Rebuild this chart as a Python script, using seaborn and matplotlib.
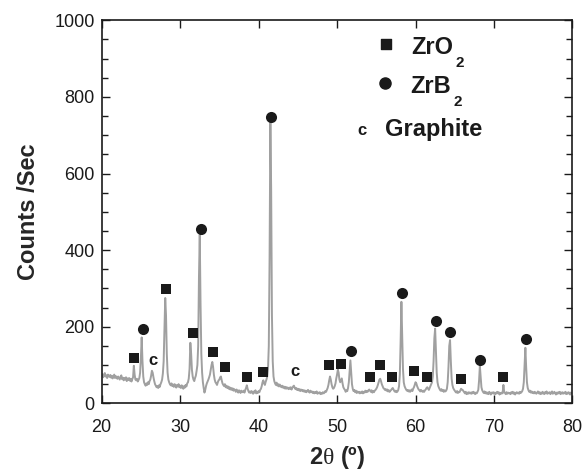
import numpy as np
import pandas as pd
import matplotlib
matplotlib.use('Agg')
import matplotlib.pyplot as plt
from matplotlib.ticker import MultipleLocator
import seaborn as sns

# XRD scan, 0.1 deg step from 20 to 80 deg (one row per degree)
counts = [
    72, 76, 68, 74, 79, 70, 73, 66, 75, 71,        # 20
    69, 74, 67, 72, 65, 70, 75, 66, 71, 68,        # 21
    64, 70, 66, 62, 69, 73, 63, 67, 60, 66,        # 22
    62, 68, 58, 65, 61, 66, 59, 64, 57, 63,        # 23
    68, 98, 75, 62, 60, 64, 57, 61, 66, 80,        # 24
    120, 172, 110, 70, 55, 50, 46, 52, 48, 55,     # 25
    50, 58, 62, 72, 85, 80, 68, 58, 50, 46,        # 26
    42, 45, 40, 47, 43, 50, 55, 62, 78, 110,       # 27
    190, 275, 230, 130, 80, 62, 55, 50, 47, 52,    # 28
    45, 49, 43, 50, 46, 41, 48, 44, 50, 42,        # 29
    46, 40, 47, 43, 38, 45, 41, 48, 44, 52,        # 30
    55, 65, 90, 158, 130, 88, 70, 62, 58, 66,      # 31
    72, 85, 100, 150, 330, 440, 260, 130, 80, 55,  # 32
    40, 28, 35, 45, 52, 57, 62, 68, 75, 88,        # 33
    100, 108, 95, 75, 62, 55, 52, 48, 55, 60,      # 34
    62, 68, 70, 60, 52, 48, 45, 50, 42, 46,        # 35
    40, 44, 38, 42, 36, 40, 35, 39, 33, 37,        # 36
    34, 30, 36, 32, 28, 34, 31, 27, 33, 30,        # 37
    29, 33, 28, 35, 40, 47, 38, 32, 28, 31,        # 38
    27, 32, 29, 25, 31, 28, 34, 26, 30, 27,        # 39
    32, 29, 35, 38, 45, 55, 60, 52, 48, 56,        # 40
    62, 70, 90, 150, 380, 735, 560, 230, 110, 70,  # 41
    58, 52, 48, 54, 46, 50, 44, 49, 45, 42,        # 42
    46, 41, 44, 39, 43, 38, 42, 40, 37, 41,        # 43
    38, 42, 36, 40, 44, 46, 41, 37, 40, 35,        # 44
    38, 34, 37, 32, 36, 33, 35, 31, 34, 30,        # 45
    33, 29, 32, 35, 30, 28, 33, 29, 31, 27,        # 46
    30, 26, 29, 27, 31, 25, 28, 26, 29, 24,        # 47
    27, 25, 29, 26, 28, 32, 30, 35, 40, 48,        # 48
    60, 70, 62, 50, 42, 38, 40, 45, 52, 65,        # 49
    75, 88, 80, 62, 55, 60, 65, 52, 42, 38,        # 50
    35, 30, 34, 32, 40, 55, 85, 112, 80, 50,       # 51
    38, 32, 35, 29, 33, 27, 31, 28, 30, 26,        # 52
    29, 27, 31, 26, 30, 28, 33, 29, 32, 30,        # 53
    34, 36, 33, 30, 34, 28, 32, 29, 33, 35,        # 54
    38, 42, 48, 55, 62, 64, 58, 50, 45, 40,        # 55
    38, 35, 37, 33, 36, 31, 34, 30, 33, 35,        # 56
    38, 40, 36, 32, 30, 33, 29, 31, 35, 45,        # 57
    75, 160, 265, 180, 90, 55, 45, 40, 36, 33,     # 58
    35, 31, 34, 30, 33, 36, 32, 38, 42, 48,        # 59
    55, 52, 45, 40, 36, 34, 31, 35, 32, 30,        # 60
    33, 30, 34, 36, 40, 42, 38, 35, 40, 45,        # 61
    50, 55, 70, 110, 170, 195, 140, 80, 55, 45,    # 62
    40, 36, 33, 37, 32, 35, 30, 34, 31, 33,        # 63
    38, 55, 95, 150, 165, 110, 65, 48, 40, 36,     # 64
    33, 30, 28, 32, 27, 30, 29, 33, 38, 36,        # 65
    35, 32, 29, 26, 30, 24, 28, 25, 29, 26,        # 66
    28, 25, 29, 26, 30, 27, 24, 28, 26, 30,        # 67
    35, 60, 97, 70, 42, 34, 30, 27, 31, 26,        # 68
    29, 25, 28, 24, 30, 27, 23, 28, 26, 29,        # 69
    25, 28, 24, 27, 30, 26, 29, 23, 27, 25,        # 70
    28, 26, 48, 30, 27, 24, 29, 25, 28, 26,        # 71
    27, 24, 29, 26, 30, 25, 28, 23, 27, 29,        # 72
    26, 28, 25, 30, 27, 29, 32, 38, 55, 100,       # 73
    145, 95, 55, 40, 34, 30, 33, 28, 31, 27,       # 74
    29, 26, 30, 27, 25, 28, 31, 26, 29, 24,        # 75
    28, 25, 30, 27, 24, 29, 26, 31, 25, 28,        # 76
    26, 29, 24, 28, 31, 25, 27, 30, 26, 23,        # 77
    28, 25, 29, 26, 30, 24, 27, 29, 25, 28,        # 78
    26, 30, 24, 28, 25, 29, 27, 23, 28, 26,        # 79
    27,                                            # 80
]
two_theta = np.linspace(20, 80, len(counts))

# phase markers above the peaks
zro2_x = [24.1, 28.2, 31.6, 34.15, 35.7, 38.5, 40.6, 49.0, 50.45, 54.15, 55.5, 57.0, 59.8, 61.5, 65.8, 71.15]
zro2_y = [119, 298, 184, 135, 94, 69, 82, 101, 103, 69, 101, 69, 84, 69, 64, 69]
zrb2_x = [25.3, 32.6, 41.55, 51.75, 58.25, 62.55, 64.45, 68.2, 74.05]
zrb2_y = [193, 455, 748, 137, 289, 214, 185, 114, 167]
graphite_x = [26.6, 44.6]
graphite_y = [112, 82]

sns.set_style('ticks')
plt.rcParams['font.family'] = ['Liberation Sans', 'DejaVu Sans']
plt.rcParams['mathtext.fontset'] = 'custom'
plt.rcParams['mathtext.rm'] = 'Liberation Serif'
plt.rcParams['mathtext.it'] = 'Liberation Serif:italic'
plt.rcParams['mathtext.bf'] = 'Liberation Sans:bold'

df = pd.DataFrame({'two_theta': two_theta, 'counts': counts})

fig = plt.figure(figsize=(5.83, 4.71), dpi=100)
ax = fig.add_axes([0.1744, 0.1437, 0.8075, 0.8132])

sns.lineplot(data=df, x='two_theta', y='counts', color='#a0a0a0', linewidth=1.4, ax=ax)
sns.scatterplot(x=zro2_x, y=zro2_y, marker='s', s=52, color='#1a1a1a', linewidth=0, ax=ax, zorder=3)
sns.scatterplot(x=zrb2_x, y=zrb2_y, marker='o', s=64, color='#1a1a1a', linewidth=0, ax=ax, zorder=3)
for gx, gy in zip(graphite_x, graphite_y):
    ax.text(gx, gy, 'c', fontsize=12, fontweight='bold', ha='center', va='center', color='#1a1a1a')

# hand-made legend in the upper right
ink = '#1a1a1a'
ax.scatter([0.603], [0.937], marker='s', s=52, color=ink, transform=ax.transAxes, clip_on=False)
ax.scatter([0.601], [0.835], marker='o', s=64, color=ink, transform=ax.transAxes, clip_on=False)
ax.text(0.552, 0.700, 'c', fontsize=12, fontweight='bold', ha='center', va='baseline',
        color=ink, transform=ax.transAxes)
ax.text(0.657, 0.912, 'ZrO', fontsize=17, fontweight='bold', va='baseline', color=ink, transform=ax.transAxes)
ax.text(0.752, 0.879, '2', fontsize=11, fontweight='bold', va='baseline', color=ink, transform=ax.transAxes)
ax.text(0.655, 0.811, 'ZrB', fontsize=17, fontweight='bold', va='baseline', color=ink, transform=ax.transAxes)
ax.text(0.748, 0.776, '2', fontsize=11, fontweight='bold', va='baseline', color=ink, transform=ax.transAxes)
ax.text(0.601, 0.698, 'Graphite', fontsize=17, fontweight='bold', va='baseline', color=ink, transform=ax.transAxes)

ax.set_xlim(20, 80)
ax.set_ylim(0, 1000)
ax.xaxis.set_major_locator(MultipleLocator(10))
ax.yaxis.set_major_locator(MultipleLocator(200))
ax.yaxis.set_minor_locator(MultipleLocator(50))
ax.tick_params(which='both', direction='in', top=True, right=True, colors=ink, labelsize=13)
ax.tick_params(which='major', length=6, width=1)
ax.tick_params(which='minor', length=4, width=1)
ax.tick_params(axis='x', which='major', pad=11)
ax.tick_params(axis='y', which='major', pad=5)
for sp in ax.spines.values():
    sp.set_visible(True)
    sp.set_linewidth(1.2)
    sp.set_color(ink)

ax.set_xlabel(r'2$\mathrm{\theta}$ (º)', fontsize=17, fontweight='bold', labelpad=6)
ax.set_ylabel('Counts /Sec', fontsize=17, fontweight='bold', labelpad=10)

fig.savefig('out.png', dpi=100)
plt.close(fig)
